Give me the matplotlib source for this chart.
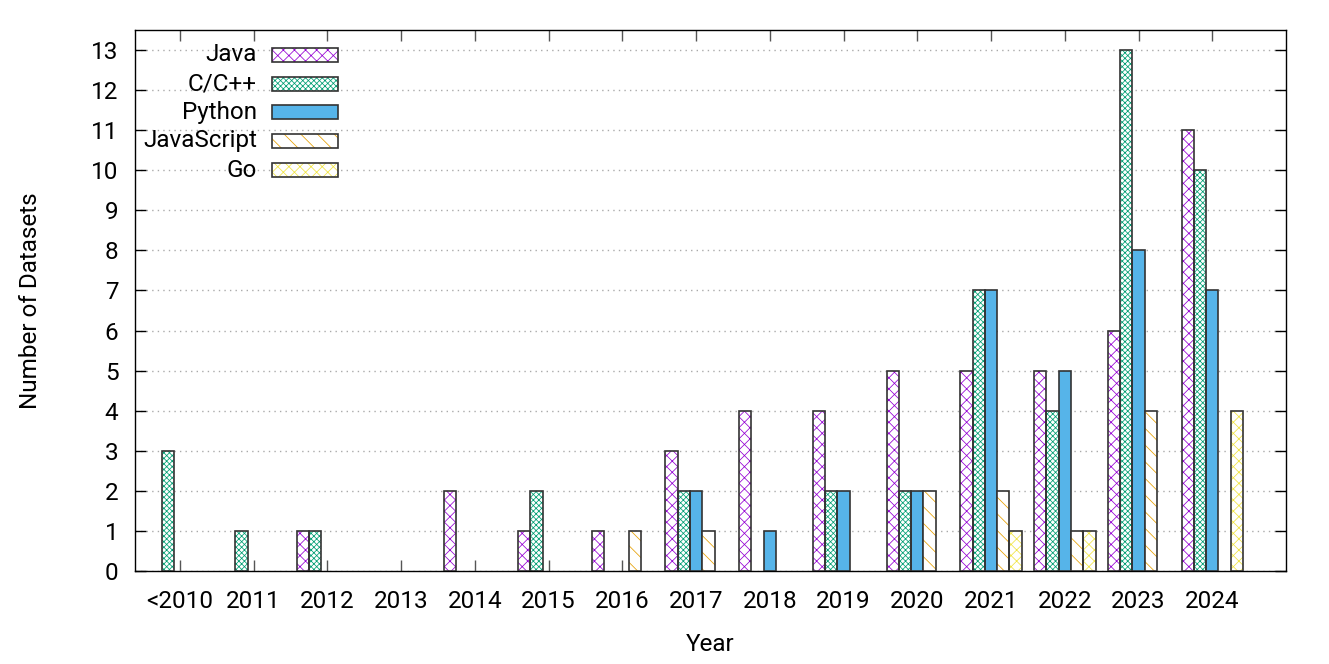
import matplotlib
matplotlib.use('Agg')
import matplotlib.pyplot as plt
from matplotlib.patches import Rectangle
import numpy as np

years = ['<2010', '2011', '2012', '2013', '2014', '2015', '2016', '2017',
         '2018', '2019', '2020', '2021', '2022', '2023', '2024']
languages = ['Java', 'C/C++', 'Python', 'JavaScript', 'Go']
java = [0, 0, 1, 0, 2, 1, 1, 3, 4, 4, 5, 5, 5, 6, 11]
cpp = [3, 1, 1, 0, 0, 2, 0, 2, 0, 2, 2, 7, 4, 13, 10]
python = [0, 0, 0, 0, 0, 0, 0, 2, 1, 2, 2, 7, 5, 8, 7]
javascript = [0, 0, 0, 0, 0, 0, 1, 1, 0, 0, 2, 2, 1, 4, 0]
go = [0, 0, 0, 0, 0, 0, 0, 0, 0, 0, 0, 1, 1, 0, 4]

series = [java, cpp, python, javascript, go]
colors = ['#9400d3', '#009e73', '#56b4e9', '#e69f00', '#f0e442']
hatches = ['xxx', 'xxxxxx', None, '\\\\', 'xxx']

plt.rcParams['font.family'] = ['Roboto', 'DejaVu Sans']
plt.rcParams['font.size'] = 17.5
plt.rcParams['hatch.linewidth'] = 0.55

fig = plt.figure(figsize=(13.29, 6.64), dpi=100)
ax = fig.add_axes([135 / 1329, 1 - 571 / 664, 1151 / 1329, 541 / 664])

x = np.arange(len(years))
w = 1 / 6
edge = '#333333'

for k, (vals, c, h) in enumerate(zip(series, colors, hatches)):
    pos = x + (k - 2) * w
    vals = np.array(vals)
    m = vals > 0
    if h is None:
        ax.bar(pos[m], vals[m], width=w, color=c, edgecolor=edge, linewidth=1.2, zorder=3)
    else:
        ax.bar(pos[m], vals[m], width=w, facecolor='white', edgecolor=c,
               hatch=h, linewidth=0, zorder=3)
        ax.bar(pos[m], vals[m], width=w, fill=False, edgecolor=edge, linewidth=1.2, zorder=4)

# legend drawn gnuplot-style: label on the left, sample box on the right
row_y = [0.954, 0.900, 0.848, 0.795, 0.741]
bx, bw, bh = 0.119, 0.0573, 0.0259
for k, lab in enumerate(languages):
    y0 = row_y[k] - bh / 2
    if hatches[k] is None:
        ax.add_patch(Rectangle((bx, y0), bw, bh, transform=ax.transAxes,
                               facecolor=colors[k], edgecolor=edge, lw=1.2, zorder=5))
    else:
        ax.add_patch(Rectangle((bx, y0), bw, bh, transform=ax.transAxes,
                               facecolor='white', edgecolor=colors[k], hatch=hatches[k],
                               lw=0, zorder=5))
        ax.add_patch(Rectangle((bx, y0), bw, bh, transform=ax.transAxes,
                               fill=False, edgecolor=edge, lw=1.2, zorder=6))
    ax.text(0.106, row_y[k], lab, transform=ax.transAxes, ha='right', va='center',
            zorder=6)

ax.set_xlim(-0.61, 15.0)
ax.set_ylim(0, 13.5)
ax.set_yticks(range(0, 14))
ax.set_xticks(x)
ax.set_xticklabels(years)
ax.tick_params(axis='y', direction='in', length=8, width=1, left=True, right=True, pad=12)
ax.tick_params(axis='x', direction='in', length=8, width=1, color='#555555',
               bottom=True, top=True, pad=14)
ax.yaxis.grid(True, linestyle=(0, (1, 3)), color='#aaaaaa', linewidth=1, zorder=0)
ax.set_axisbelow(True)
for s in ax.spines.values():
    s.set_linewidth(1)

ax.set_xlabel('Year', labelpad=14)
ax.set_ylabel('Number of Datasets', labelpad=35)

fig.savefig('out.png', dpi=100)
